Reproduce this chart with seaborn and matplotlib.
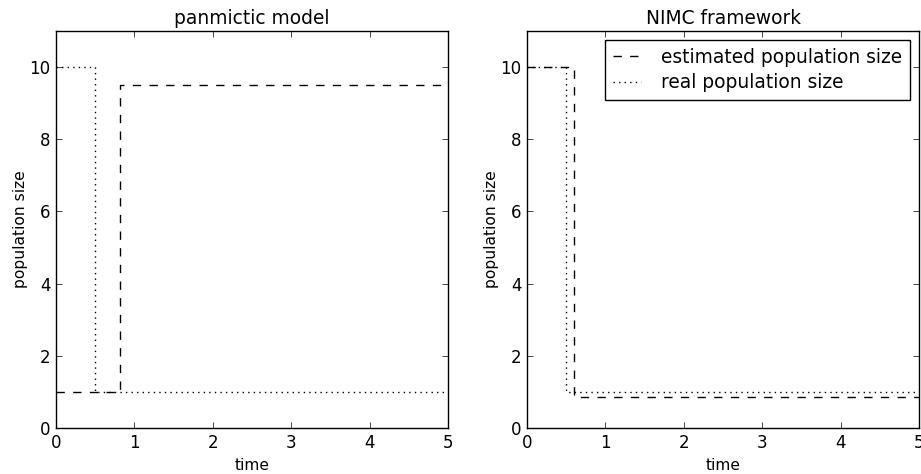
import matplotlib
matplotlib.use("Agg")
import matplotlib.pyplot as plt
import seaborn as sns
import pandas as pd

# data
real_t = [0.0, 0.5, 5.0]
real_n = [10.0, 1.0, 1.0]
pan_est_t = [0.0, 0.82, 5.0]
pan_est_n = [1.0, 9.5, 9.5]
nimc_est_t = [0.0, 0.6, 5.0]
nimc_est_n = [10.0, 0.87, 0.87]
titles = ["panmictic model", "NIMC framework"]
xticks = [0, 1, 2, 3, 4, 5]
yticks = [0, 2, 4, 6, 8, 10]

sns.set_style("ticks")
plt.rcParams.update({
    "font.family": ["DejaVu Sans"],
    "font.size": 11.2,
    "xtick.direction": "in",
    "ytick.direction": "in",
    "xtick.top": True,
    "ytick.right": True,
    "xtick.major.size": 4,
    "ytick.major.size": 4,
    "xtick.major.width": 0.5,
    "ytick.major.width": 0.5,
    "xtick.major.pad": 4,
    "ytick.major.pad": 4,
    "axes.linewidth": 1.0,
    "axes.edgecolor": "black",
    "xtick.color": "black",
    "ytick.color": "black",
    "text.color": "black",
    "axes.labelcolor": "black",
})

fig = plt.figure(figsize=(9.21, 4.74), dpi=100)
W, H = 921, 474
ax1 = fig.add_axes([56 / W, (H - 428) / H, 392 / W, 397 / H])
ax2 = fig.add_axes([527 / W, (H - 428) / H, 392 / W, 397 / H])

dash = (0, (6, 6))
dot = (0, (1, 3))

df_real = pd.DataFrame({"t": real_t, "n": real_n})
df_pe = pd.DataFrame({"t": pan_est_t, "n": pan_est_n})
df_ne = pd.DataFrame({"t": nimc_est_t, "n": nimc_est_n})

sns.lineplot(data=df_pe, x="t", y="n", ax=ax1, color="black", lw=1.0,
             linestyle=dash, drawstyle="steps-post", label="estimated population size")
sns.lineplot(data=df_real, x="t", y="n", ax=ax1, color="black", lw=1.0,
             linestyle=dot, drawstyle="steps-post", label="real population size")
sns.lineplot(data=df_ne, x="t", y="n", ax=ax2, color="black", lw=1.0,
             linestyle=dash, drawstyle="steps-post", label="estimated population size")
sns.lineplot(data=df_real, x="t", y="n", ax=ax2, color="black", lw=1.0,
             linestyle=dot, drawstyle="steps-post", label="real population size")

for ax, title in zip([ax1, ax2], titles):
    ax.set_xlim(0, 5)
    ax.set_ylim(0, 11)
    ax.set_xticks(xticks)
    ax.set_yticks(yticks)
    ax.set_title(title, fontsize=13.4, pad=5)
    ax.set_xlabel("time", fontsize=11.2, labelpad=5)
    ax.set_ylabel("population size", fontsize=11.2, labelpad=1)
    ax.tick_params(labelsize=12)
    for s in ax.spines.values():
        s.set_visible(True)

ax1.get_legend().remove()
leg = ax2.legend(loc="upper right", fontsize=13.4, fancybox=False, framealpha=1,
                 edgecolor="black", handlelength=1.5, handletextpad=1.1,
                 borderaxespad=0.5, labelspacing=0.35)
leg.get_frame().set_linewidth(1.0)

fig.savefig("out.png", dpi=100)
